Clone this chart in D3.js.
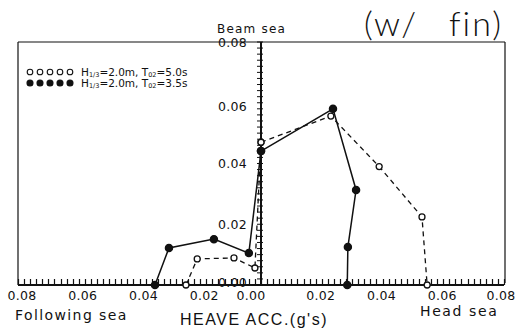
<!DOCTYPE html>
<html><head><meta charset="utf-8">
<script src="https://cdn.jsdelivr.net/npm/d3@7"></script>
<style>body{margin:0;background:#fff}svg{display:block}</style>
</head><body>
<svg id="c" width="518" height="336"></svg>
<script>
// Heave acceleration (g's): [horizontal value, vertical (beam sea) value]
const seriesNames = ["H1/3=2.0m, T02=5.0s", "H1/3=2.0m, T02=3.5s"];
const followingT50 = [[0.0247,0.000],[0.0210,0.0086],[0.0089,0.0089],[0.0020,0.0056],[0.0000,0.0470]];
const headT50      = [[0.0000,0.0470],[0.0230,0.0556],[0.0389,0.0390],[0.0530,0.0224],[0.0547,0.000]];
const followingT35 = [[0.0349,0.000],[0.0303,0.0122],[0.0155,0.0151],[0.0040,0.0105],[0.0000,0.0441]];
const headT35      = [[0.0000,0.0441],[0.0237,0.0580],[0.0313,0.0313],[0.0286,0.0125],[0.0284,0.000]];
const xTickVals = [-0.08,-0.06,-0.04,-0.02,0,0.02,0.04,0.06,0.08];
const yTickVals = [0,0.02,0.04,0.06,0.08];

const svg = d3.select("#c");
const cx = 261, y0 = 285, half = 243;
const x = d3.scaleLinear().domain([-0.08,0.08]).range([cx-half, cx+half]);
const y = d3.scaleLinear().domain([0,0.08]).range([y0, y0-half]);
const ink = "#111";

// frame
svg.append("line").attr("x1",x(-0.08)).attr("x2",x(-0.08)).attr("y1",y(0.08)).attr("y2",y(0)).attr("stroke",ink).attr("stroke-width",1.2);
svg.append("line").attr("x1",x(-0.08)).attr("x2",x(0.08)+1).attr("y1",y(0.08)).attr("y2",y(0.08)).attr("stroke",ink).attr("stroke-width",1.2);
svg.append("line").attr("x1",x(0.08)+1).attr("x2",x(0.08)+1).attr("y1",y(0.08)).attr("y2",y(0)-2).attr("stroke",ink).attr("stroke-width",1.2);

// bottom axis with minor ticks pointing up
const minor = d3.range(-40,41).map(k=>k*0.002);
svg.append("path")
  .attr("d", minor.map(d=>`M${Math.round(x(d))+0.5},${y0}V${y0-6}`).join(""))
  .attr("stroke",ink).attr("stroke-width",1.2).attr("fill","none");
svg.append("line").attr("x1",x(-0.08)).attr("x2",x(0.08)).attr("y1",y0).attr("y2",y0).attr("stroke",ink).attr("stroke-width",1.8);
svg.append("g").selectAll("text").data(xTickVals).join("text")
  .attr("x",d=>x(d)+(d<0?4:d===0?-10:d===0.08?-3:-1)).attr("y",y0+15)
  .attr("text-anchor","middle").attr("font-family","DejaVu Sans, sans-serif")
  .attr("font-size",12.5).attr("fill",ink).attr("letter-spacing",0.3)
  .text(d=>Math.abs(d).toFixed(2));

// central vertical axis
const yMinor = d3.range(0,41).map(k=>k*0.002);
svg.append("line").attr("x1",cx).attr("x2",cx).attr("y1",y(0.08)).attr("y2",y0).attr("stroke",ink).attr("stroke-width",2);
svg.append("g").selectAll("line").data(yMinor).join("line")
  .attr("x1",cx-4).attr("x2",cx+2).attr("y1",d=>y(d)).attr("y2",d=>y(d))
  .attr("stroke",ink).attr("stroke-width",1);
svg.append("g").selectAll("text").data(yTickVals).join("text")
  .attr("x",cx-14).attr("y",d=>y(d)+(d===0?-2:(d===0.06?4:d===0.08?1:0))).attr("dy","0.35em")
  .attr("text-anchor","end").attr("font-family","DejaVu Sans, sans-serif")
  .attr("font-size",12.5).attr("fill",ink).attr("letter-spacing",0.3)
  .text(d=>d.toFixed(2));

// series
const line = d3.line().x(d=>x(d[0])).y(d=>y(d[1]));
const toLeft = arr => arr.map(d=>[-d[0],d[1]]);
function drawSeries(pts, dashed, filled){
  svg.append("path").attr("d",line(pts)).attr("fill","none").attr("stroke",ink)
    .attr("stroke-width",dashed?1.3:1.5).attr("stroke-dasharray",dashed?"5,4":null);
  svg.append("g").selectAll("circle").data(pts).join("circle")
    .attr("cx",d=>x(d[0])).attr("cy",d=>y(d[1])).attr("r",filled?3.6:3)
    .attr("fill",filled?ink:"#fff").attr("stroke",ink).attr("stroke-width",1.3);
}
drawSeries(toLeft(followingT50), true, false);
drawSeries(headT50, true, false);
drawSeries(toLeft(followingT35), false, true);
drawSeries(headT35, false, true);

// legend
const lg = svg.append("g");
const legY = [72, 83];
[0,1].forEach(i=>{
  const xs = d3.range(5).map(k=>30+k*10);
  lg.append("g").selectAll("circle").data(xs).join("circle")
    .attr("cx",d=>d).attr("cy",legY[i]).attr("r",i===0?2.8:3)
    .attr("fill",i===0?"#fff":ink).attr("stroke",ink).attr("stroke-width",1.1);
  const parts = seriesNames[i].match(/^H(1\/3)(=2\.0m,) T(02)(=.*)$/);
  const t = lg.append("text").attr("x",81).attr("y",legY[i]+3.5)
    .attr("font-family","DejaVu Sans, sans-serif").attr("font-size",10.5).attr("fill",ink);
  t.append("tspan").text("H");
  t.append("tspan").attr("font-size",6.5).attr("dy",1.5).text(parts[1]);
  t.append("tspan").attr("dy",-1.5).text(parts[2]+"  T");
  t.append("tspan").attr("font-size",6.5).attr("dy",1.5).text(parts[3]);
  t.append("tspan").attr("dy",-1.5).text(parts[4]);
});

// labels
const lab = (tx,xx,yy,fs,ls,anchor,fam)=>svg.append("text").attr("x",xx).attr("y",yy)
  .attr("font-family",fam||"DejaVu Sans, sans-serif").attr("font-size",fs).attr("letter-spacing",ls)
  .attr("text-anchor",anchor||"start").attr("fill",ink).text(tx);
lab("Beam sea",217,33,12,1.2);
lab("Following sea",15,320,14,1.4);
lab("HEAVE ACC.(g's)",180,325,16,1.5,"start","Liberation Sans, Arial, sans-serif");
lab("Head sea",420,316,14,1.6);
lab("(w/",364,36,34,2,"start","Lato, sans-serif").attr("font-weight",300);
lab("fin)",503,36,34,2,"end","Lato, sans-serif").attr("font-weight",300);
</script>
</body></html>
